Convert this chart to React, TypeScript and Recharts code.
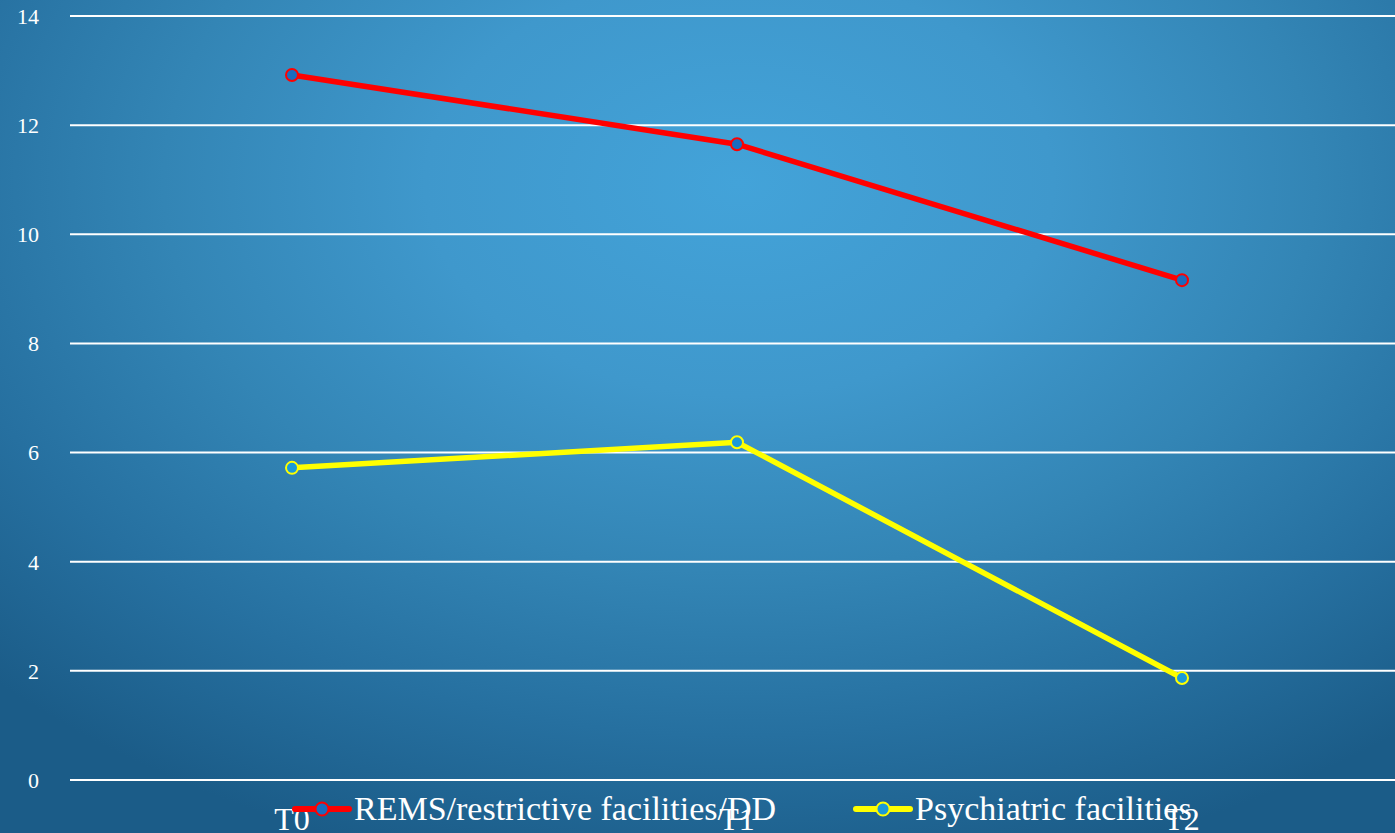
import React from "react";
import { LineChart, Line, XAxis, YAxis, CartesianGrid, Legend } from "recharts";

const categories = ["T0", "T1", "T2"];
const remsValues = [12.92, 11.65, 9.16];
const psychValues = [5.72, 6.19, 1.87];
const yTicks = [0, 2, 4, 6, 8, 10, 12, 14];

const seriesNames = ["REMS/restrictive facilities/DD", "Psychiatric facilities"];

const data = categories.map((c, i) => ({
  name: c,
  rems: remsValues[i],
  psych: psychValues[i],
}));

const FONT = "'Liberation Serif', 'DejaVu Serif', serif";

const LegendContent = () => {
  const items = [
    { label: seriesNames[0], color: "#ff0000", fill: "#1a6cbf", x: 292 },
    { label: seriesNames[1], color: "#ffff00", fill: "#1b9ad8", x: 853 },
  ];
  return (
    <div style={{ position: "relative", width: 1395, height: 40 }}>
      {items.map((it) => (
        <div
          key={it.label}
          style={{
            position: "absolute",
            left: it.x,
            top: 0,
            display: "flex",
            alignItems: "center",
            fontFamily: FONT,
            fontSize: 34,
            lineHeight: "40px",
            color: "#ffffff",
            whiteSpace: "nowrap",
          }}
        >
          <svg width={60} height={20} style={{ marginRight: 2 }}>
            <line x1={3} y1={10} x2={57} y2={10} stroke={it.color} strokeWidth={6} strokeLinecap="round" />
            <circle cx={30} cy={10} r={6.5} fill={it.fill} stroke={it.color} strokeWidth={2} />
          </svg>
          <span>{it.label}</span>
        </div>
      ))}
    </div>
  );
};

export default function App() {
  return (
    <div
      style={{
        position: "absolute",
        left: 0,
        top: 0,
        width: 1395,
        height: 833,
        overflow: "hidden",
        background:
          "radial-gradient(ellipse 75% 85% at 53% 22%, #43a3d9 0%, #3f98cc 30%, #3385b5 55%, #2670a0 78%, #1b5c88 100%)",
      }}
    >
      <LineChart
        width={1405}
        height={833}
        data={data}
        margin={{ top: 16, right: 0, left: 0, bottom: 0 }}
      >
        <CartesianGrid horizontal={true} vertical={false} stroke="#ffffff" strokeWidth={2} />
        <XAxis
          dataKey="name"
          height={53}
          padding={{ left: 222, right: 223 }}
          axisLine={false}
          tickLine={false}
          tickSize={0}
          tickMargin={27}
          interval={0}
          tick={{ fill: "#ffffff", fontSize: 32, fontFamily: FONT }}
        />
        <YAxis
          width={70}
          domain={[0, 14]}
          ticks={yTicks}
          axisLine={false}
          tickLine={false}
          tickSize={0}
          tickMargin={31}
          tick={{ fill: "#ffffff", fontSize: 22, fontFamily: FONT }}
        />
        <Legend
          layout="horizontal"
          verticalAlign="middle"
          content={<LegendContent />}
          wrapperStyle={{ position: "absolute", left: 0, top: 789, width: 1395 }}
        />
        <Line
          type="linear"
          dataKey="rems"
          name={seriesNames[0]}
          stroke="#ff0000"
          strokeWidth={5.5}
          dot={{ r: 6, fill: "#1a6cbf", stroke: "#ff0000", strokeWidth: 2 }}
          activeDot={false}
          isAnimationActive={false}
        />
        <Line
          type="linear"
          dataKey="psych"
          name={seriesNames[1]}
          stroke="#ffff00"
          strokeWidth={5.5}
          dot={{ r: 6, fill: "#1b9ad8", stroke: "#ffff00", strokeWidth: 2 }}
          activeDot={false}
          isAnimationActive={false}
        />
      </LineChart>
    </div>
  );
}
